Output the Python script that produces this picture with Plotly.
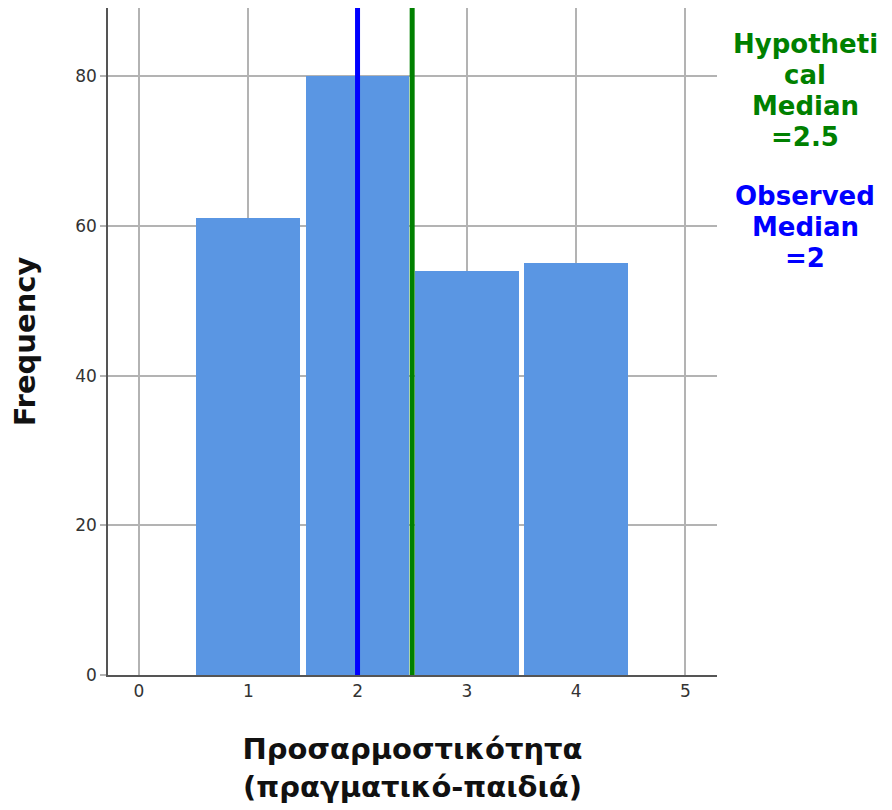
import plotly.graph_objects as go

categories = [1, 2, 3, 4]
frequencies = [61, 80, 54, 55]
observed_median = 2
hypothetical_median = 2.5
x_ticks = [0, 1, 2, 3, 4, 5]
y_ticks = [0, 20, 40, 60, 80]

x_title = "Προσαρμοστικότητα<br>(πραγματικό-παιδιά)"
y_title = "Frequency"
hyp_lines = ["Hypotheti", "cal", "Median", "=2.5"]
obs_lines = ["Observed", "Median", "=2"]

FONT = "DejaVu Sans"
GRID = "#b3b3b3"

# page body has an 8px margin; figure sized to fit the 892x810 window
W, H = 884, 802
L, R, T, B = 100, 175, 0, 135


def py_to_paper(py):
    # py = window pixel y
    bottom = 8 + H - B
    return (bottom - py) / (bottom - (8 + T))


fig = go.Figure()
fig.add_trace(go.Bar(
    x=categories, y=frequencies, width=0.95,
    marker=dict(color="#5a96e3", line=dict(width=0)),
    showlegend=False, hoverinfo="x+y",
))

fig.add_vline(x=observed_median, line=dict(color="#0000ff", width=5), layer="above")
fig.add_vline(x=hypothetical_median, line=dict(color="#008000", width=5), layer="above")

ann_x = (805 - (8 + L)) / (W - L - R)
hyp_y = [44, 75, 106, 137]
obs_y = [196, 227, 258]
for txt, yy in zip(hyp_lines, hyp_y):
    fig.add_annotation(
        text="<b>" + txt + "</b>", xref="paper", yref="paper",
        x=ann_x, y=py_to_paper(yy), xanchor="center", yanchor="middle",
        showarrow=False, font=dict(family=FONT, size=26, color="#008000"),
    )
for txt, yy in zip(obs_lines, obs_y):
    fig.add_annotation(
        text="<b>" + txt + "</b>", xref="paper", yref="paper",
        x=ann_x, y=py_to_paper(yy), xanchor="center", yanchor="middle",
        showarrow=False, font=dict(family=FONT, size=26, color="#0000ff"),
    )

fig.update_layout(
    width=W, height=H,
    margin=dict(l=L, r=R, t=T, b=B),
    plot_bgcolor="white", paper_bgcolor="white",
    font=dict(family=FONT, color="#333333"),
    bargap=0,
    xaxis=dict(
        range=[-0.284, 5.29], tickvals=x_ticks, ticktext=[str(v) for v in x_ticks],
        showgrid=True, gridcolor=GRID, gridwidth=1.5,
        showline=True, linecolor="#555555", linewidth=1.5,
        ticks="", tickfont=dict(size=17, color="#333333"),
        zeroline=False,
        title=dict(text="<b>" + x_title + "</b>", font=dict(size=29, color="#111111"), standoff=39),
    ),
    yaxis=dict(
        range=[0, 89.1], tickvals=y_ticks,
        showgrid=True, gridcolor=GRID, gridwidth=1.5,
        showline=True, linecolor="#555555", linewidth=1.5,
        ticks="outside", ticklen=6, tickcolor=GRID, tickwidth=1.5,
        tickfont=dict(size=17, color="#333333"),
        zeroline=False,
        title=dict(text="<b>" + y_title + "</b>", font=dict(size=29, color="#111111"), standoff=31),
    ),
)

fig.write_html("out.html")
